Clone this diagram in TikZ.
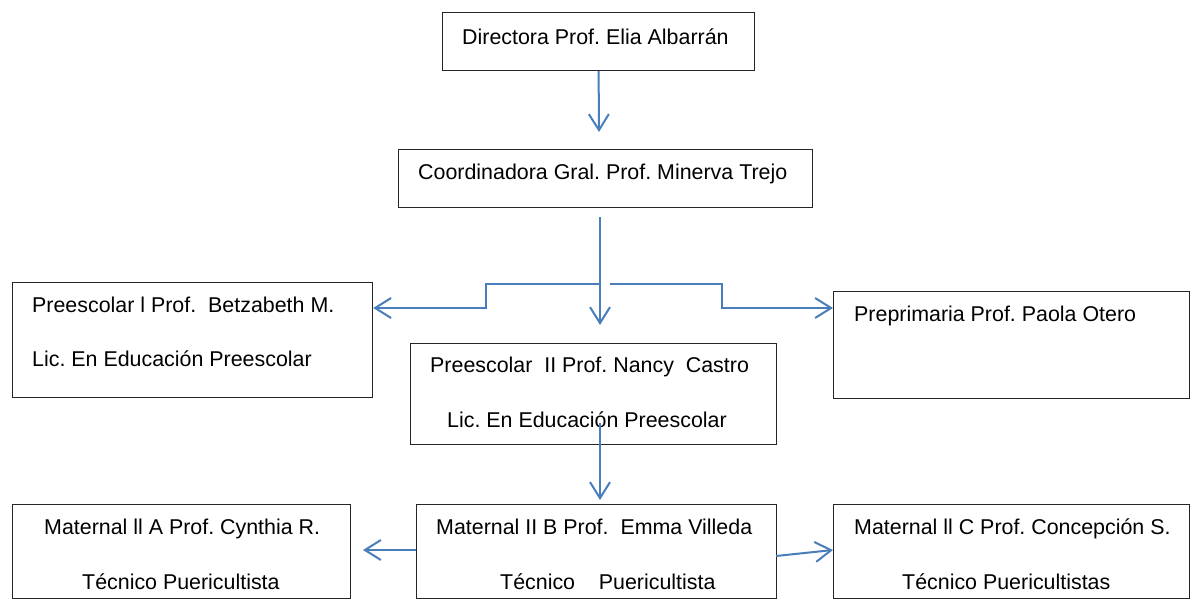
\documentclass[tikz,border=0pt]{standalone}
\usepackage{fontspec}
\setmainfont{Liberation Sans}
\usetikzlibrary{arrows.meta}
\definecolor{conn}{RGB}{74,126,187}
\frenchspacing
\begin{document}
\begin{tikzpicture}[x=1pt,y=-1pt,
  box/.style={draw=black!85,line width=1.2pt,inner sep=0pt,anchor=north west},
  txt/.style={anchor=base west,inner sep=0pt,font=\fontsize{21.4}{25}\selectfont},
  arr/.style={draw=conn,line width=2pt,-{Straight Barb[length=16pt,width=20pt,line width=2pt]}},
  ln/.style={draw=conn,line width=2pt}]
\useasboundingbox (0,0) rectangle (1191,600);
% boxes
\node[box,minimum width=312pt,minimum height=58pt] (dir) at (442,12) {};
\node[box,minimum width=414pt,minimum height=58pt] (crd) at (398,149) {};
\node[box,minimum width=360pt,minimum height=115pt] (pa) at (12,282) {};
\node[box,minimum width=356pt,minimum height=107pt] (pp) at (833,291) {};
\node[box,minimum width=366pt,minimum height=101pt] (pb) at (410,343) {};
\node[box,minimum width=338pt,minimum height=94pt] (ma) at (12,504) {};
\node[box,minimum width=360pt,minimum height=94pt] (mb) at (416,504) {};
\node[box,minimum width=356pt,minimum height=94pt] (mc) at (833,504) {};
% texts
\node[txt] (t1) at (462,44) {Directora Prof. Elia Albarrán};
\node[txt] (t2) at (418,179) {Coordinadora Gral. Prof. Minerva Trejo};
\node[txt] (t3) at (32,312) {Preescolar l Prof.~ Betzabeth M.};
\node[txt] (t4) at (32,366) {Lic. En Educación Preescolar};
\node[txt] (t5) at (854,321) {Preprimaria Prof. Paola Otero};
\node[txt] (t6) at (430,372) {Preescolar~ II Prof. Nancy~ Castro};
\node[txt] (t7) at (447,427) {Lic. En Educación Preescolar};
\node[txt] (t8) at (44,534) {Maternal ll A Prof. Cynthia R.};
\node[txt] (t9) at (82,589) {Técnico Puericultista};
\node[txt] (t10) at (436,534) {Maternal II B Prof.~ Emma Villeda};
\node[txt] (t11) at (500,589) {Técnico~~~ Puericultista};
\node[txt] (t12) at (854,534) {Maternal ll C Prof. Concepción S.};
\node[txt] (t13) at (902,589) {Técnico Puericultistas};
% connector points
\coordinate (a1) at (599,132);
\coordinate (tr0) at (600,217);
\coordinate (tr1) at (600,325);
\coordinate (jl) at (600,284);
\coordinate (kl) at (486,308);
\coordinate (jr) at (610,284);
\coordinate (kr) at (722,308);
\coordinate (d0) at (600,423);
\coordinate (d1) at (600,500);
\coordinate (la) at (363,550);
\coordinate (lb) at (416,550);
\coordinate (rb) at (776,556);
\coordinate (rc) at (833,550);
% connectors
\draw[arr] (dir.south) -- (a1);
\draw[arr] (tr0) -- (tr1);
\draw[arr] (jl) -| (kl) -- (kl -| pa.east);
\draw[arr] (jr) -| (kr) -- (kr -| pp.west);
\draw[arr] (d0) -- (d1);
\draw[arr] (lb) -- (la);
\draw[arr] (rb) -- (rc);
\end{tikzpicture}
\end{document}
